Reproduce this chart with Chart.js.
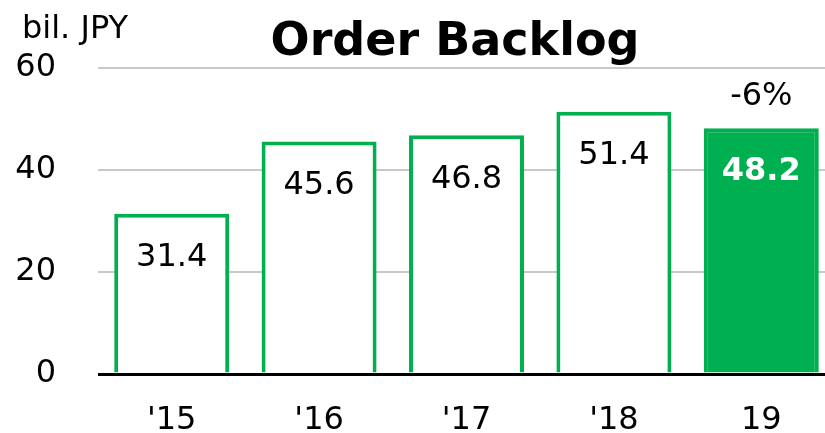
<!DOCTYPE html>
<html>
<head>
<meta charset="utf-8">
<script src="https://cdn.jsdelivr.net/npm/chart.js@4/dist/chart.umd.min.js"></script>
<style>
  html, body { margin: 0; padding: 0; background: #fff; overflow: hidden; }
  #wrap { width: 835px; height: 433px; }
</style>
</head>
<body>
<div id="wrap"><canvas id="c" width="835" height="433"></canvas></div>
<script>
const categories = ["'15", "'16", "'17", "'18", "19"];
const backlog = [31.4, 45.6, 46.8, 51.4, 48.2];
const yTicks = [0, 20, 40, 60];
const changeLabel = "-6%";
const titleText = "Order Backlog";
const unitText = "bil. JPY";

const GREEN = '#00b050';
const FONT = "'DejaVu Sans', Verdana, sans-serif";

const labelPlugin = {
  id: 'labels',
  afterDatasetsDraw(chart) {
    const ctx = chart.ctx;
    const meta = chart.getDatasetMeta(0);
    ctx.save();
    ctx.textAlign = 'center';
    ctx.textBaseline = 'middle';
    meta.data.forEach((bar, i) => {
      const last = i === backlog.length - 1;
      ctx.font = (last ? 'bold ' : '') + '32px ' + FONT;
      ctx.fillStyle = last ? '#ffffff' : '#000000';
      ctx.fillText(String(backlog[i].toFixed(1)), bar.x, bar.y + 44);
      if (last) {
        ctx.font = '32px ' + FONT;
        ctx.fillStyle = '#000000';
        ctx.fillText(changeLabel, bar.x, bar.y - 31);
      }
    });
    ctx.font = 'bold 46px ' + FONT;
    ctx.fillStyle = '#000';
    ctx.fillText(titleText, 455, 43);
    ctx.font = '32px ' + FONT;
    ctx.textAlign = 'left';
    ctx.fillText(unitText, 22, 30);
    ctx.restore();
  }
};

new Chart(document.getElementById('c'), {
  type: 'bar',
  data: {
    labels: categories,
    datasets: [{
      data: backlog,
      backgroundColor: backlog.map((v, i) => i === backlog.length - 1 ? GREEN : '#ffffff'),
      borderColor: GREEN,
      borderWidth: 4,
      borderSkipped: 'start',
      barPercentage: 0.78,
      categoryPercentage: 1.0
    }]
  },
  options: {
    responsive: false,
    animation: false,
    devicePixelRatio: 1,
    layout: { padding: { top: 68, left: 0, right: 0, bottom: 0 } },
    plugins: { legend: { display: false }, title: { display: false }, tooltip: { enabled: false } },
    scales: {
      x: {
        offset: true,
        grid: { display: false, drawTicks: false },
        border: { display: false },
        ticks: { color: '#000', font: { family: FONT, size: 32 }, padding: 27 },
        afterFit(scale) { scale.height = 59; }
      },
      y: {
        min: 0, max: 60,
        afterBuildTicks(scale) { scale.ticks = yTicks.map(v => ({ value: v })); },
        grid: {
          drawTicks: false,
          color: ctx => ctx.tick && ctx.tick.value === 0 ? '#000000' : '#c8c8c8',
          lineWidth: ctx => ctx.tick && ctx.tick.value === 0 ? 3 : 2
        },
        border: { display: false },
        ticks: { color: '#000', font: { family: FONT, size: 32 }, padding: 42 },
        afterFit(scale) { scale.width = 98; scale.paddingTop = 0; scale.paddingBottom = 0; }
      }
    }
  },
  plugins: [labelPlugin]
});
</script>
</body>
</html>
